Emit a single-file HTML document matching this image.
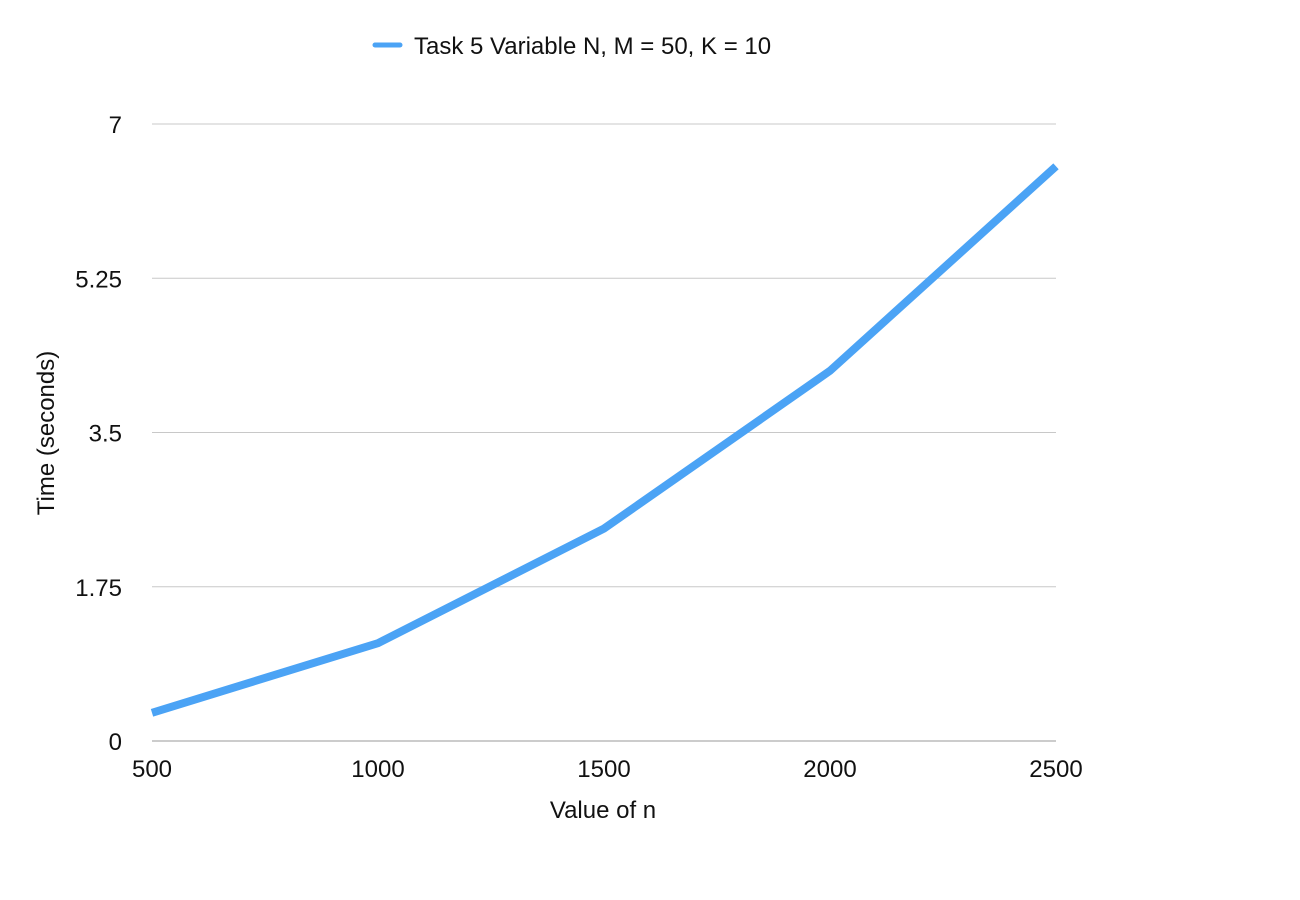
<!DOCTYPE html>
<html><head><meta charset="utf-8"><style>
html,body{margin:0;padding:0;background:#fff;}
svg{display:block;font-family:"Liberation Sans",Arial,sans-serif;}
</style></head><body>
<svg id="chart" width="1300" height="900" viewBox="0 0 1300 900">
<g id="grid"></g>
<g id="yticks"></g>
<g id="xticks"></g>
<g id="series"></g>
<g>
<line x1="375" y1="45" x2="400" y2="45" stroke="#4BA3F5" stroke-width="5" stroke-linecap="round"/>
<text x="414" y="54" font-size="24" fill="#111">Task 5 Variable N, M = 50, K = 10</text>
</g>
<text x="603" y="818" font-size="24" text-anchor="middle" fill="#111">Value of n</text>
<text transform="translate(54,433) rotate(-90)" font-size="24" text-anchor="middle" fill="#111">Time (seconds)</text>
</svg>
<script>
const categories=[500,1000,1500,2000,2500];
const values=[0.32,1.11,2.41,4.20,6.52];
const yTicks=[0,1.75,3.5,5.25,7];
const yTickLabels=["0","1.75","3.5","5.25","7"];
const NS="http://www.w3.org/2000/svg";
const x0=152,x1=1056,yb=741,yt=124;
function xs(v){return x0+(v-500)/(2500-500)*(x1-x0);}
function ys(v){return yb-(v/7)*(yb-yt);}
function mk(t,a,p){const e=document.createElementNS(NS,t);for(const k in a)e.setAttribute(k,a[k]);p.appendChild(e);return e;}
const grid=document.getElementById('grid'),yt_=document.getElementById('yticks'),xt=document.getElementById('xticks'),ser=document.getElementById('series');
yTicks.forEach((v,i)=>{
 const l=mk('line',{x1:x0,x2:x1,y1:ys(v),y2:ys(v),stroke:i===0?'#999':'#c8c8c8','stroke-width':1},grid);
 
 
 const t=mk('text',{x:122,y:ys(v)+9,'font-size':24,'text-anchor':'end',fill:'#111'},yt_);
 t.textContent=yTickLabels[i];
 
 
});
categories.forEach(c=>{
 const t=mk('text',{x:xs(c),y:777,'font-size':24,'text-anchor':'middle',fill:'#111'},xt);
 t.textContent=String(c);
 
 
});
const pts=categories.map((c,i)=>xs(c)+','+ys(values[i])).join(' ');
const pl=mk('polyline',{points:pts,fill:'none',stroke:'#4BA3F5','stroke-width':8,'stroke-linejoin':'miter'},ser);


</script>
</body></html>
